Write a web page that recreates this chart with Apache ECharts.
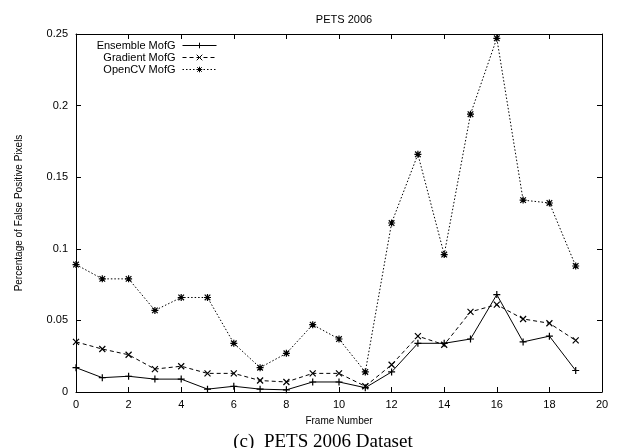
<!DOCTYPE html>
<html>
<head>
<meta charset="utf-8">
<script src="https://cdn.jsdelivr.net/npm/echarts@6/dist/echarts.min.js"></script>
<style>
  html, body { margin: 0; padding: 0; background: #fff; }
  #chart { width: 617px; height: 448px; }
</style>
</head>
<body>
<div id="chart"></div>
<script>
// Frame indices and per-frame false-positive ratios for each method
const frames = [0, 1, 2, 3, 4, 5, 6, 7, 8, 9, 10, 11, 12, 13, 14, 15, 16, 17, 18, 19];
const ensembleMofG = [0.017, 0.010, 0.011, 0.009, 0.009, 0.002, 0.004, 0.002, 0.0015, 0.007, 0.007, 0.003, 0.014, 0.034, 0.034, 0.037, 0.068, 0.035, 0.039, 0.015];
const gradientMofG = [0.035, 0.030, 0.026, 0.016, 0.018, 0.013, 0.013, 0.008, 0.007, 0.013, 0.013, 0.004, 0.019, 0.039, 0.033, 0.056, 0.061, 0.051, 0.048, 0.036];
const openCVMofG = [0.089, 0.079, 0.079, 0.057, 0.066, 0.066, 0.034, 0.017, 0.027, 0.047, 0.037, 0.014, 0.118, 0.166, 0.096, 0.194, 0.247, 0.134, 0.132, 0.088];
const seriesNames = ['Ensemble MofG', 'Gradient MofG', 'OpenCV MofG'];

const FONT = '"Liberation Sans", Arial, sans-serif';

// gnuplot-style point markers drawn as stroked paths
const plusMark = 'path://M0,5L10,5M5,0L5,10';
const crossMark = 'path://M0,0L10,10M10,0L0,10';
const starMark = 'path://M0,5L10,5M5,0L5,10M1,1L9,9M9,1L1,9';

function pairs(values) {
  return frames.map((f, i) => [f, values[i]]);
}

function lineSeries(name, values, dash, mark, size) {
  return {
    name: name,
    type: 'line',
    data: pairs(values),
    symbol: mark,
    symbolSize: size,
    showAllSymbol: true,
    animation: false,
    lineStyle: { color: '#000', width: 1, type: dash },
    itemStyle: { color: 'rgba(0,0,0,0)', borderColor: '#000', borderWidth: 1.2 },
    emphasis: { disabled: true }
  };
}

// one legend per entry so the labels line up on their right edge
function legendRow(name, top) {
  return {
    data: [name],
    right: 400,
    top: top,
    align: 'right',
    itemWidth: 34,
    itemHeight: 7,
    itemGap: 4,
    padding: 0,
    selectedMode: false,
    itemStyle: { color: 'rgba(0,0,0,0)', borderColor: '#000', borderWidth: 1 },
    lineStyle: { width: 1 },
    textStyle: { fontFamily: FONT, fontSize: 11, color: '#000', padding: [0, 2, 0, 0] }
  };
}

const chart = echarts.init(document.getElementById('chart'), null, { renderer: 'canvas' });

chart.setOption({
  backgroundColor: '#fff',
  animation: false,
  title: [
    {
      text: 'PETS 2006',
      left: 339,
      top: 9,
      textAlign: 'center',
      textStyle: { fontFamily: FONT, fontSize: 11, fontWeight: 'normal', color: '#000' }
    },
    {
      text: '(c)  PETS 2006 Dataset',
      left: 318,
      top: 428,
      textAlign: 'center',
      textStyle: { fontFamily: '"Liberation Serif", "Times New Roman", serif', fontSize: 19, fontWeight: 'normal', color: '#000' }
    }
  ],
  legend: [
    legendRow(seriesNames[0], 40),
    legendRow(seriesNames[1], 52),
    legendRow(seriesNames[2], 64)
  ],
  grid: { left: 76, right: 15, top: 34, bottom: 56, show: false },
  xAxis: [
    {
      type: 'value',
      min: 0,
      max: 20,
      interval: 2,
      name: 'Frame Number',
      nameLocation: 'middle',
      nameGap: 24,
      nameTextStyle: { fontFamily: FONT, fontSize: 10, color: '#000' },
      axisLine: { show: true, onZero: false, lineStyle: { color: '#000', width: 1 } },
      axisTick: { show: true, inside: true, length: 5, lineStyle: { color: '#000' } },
      axisLabel: { fontFamily: FONT, fontSize: 11, color: '#000', margin: 7 },
      splitLine: { show: false }
    },
    {
      type: 'value',
      position: 'top',
      min: 0,
      max: 20,
      interval: 2,
      axisLine: { show: true, onZero: false, lineStyle: { color: '#000', width: 1 } },
      axisTick: { show: true, inside: true, length: 5, lineStyle: { color: '#000' } },
      axisLabel: { show: false },
      splitLine: { show: false }
    }
  ],
  yAxis: [
    {
      type: 'value',
      min: 0,
      max: 0.25,
      interval: 0.05,
      name: 'Percentage of False Positive Pixels',
      nameLocation: 'middle',
      nameGap: 52,
      nameTextStyle: { fontFamily: FONT, fontSize: 10, color: '#000' },
      axisLine: { show: true, onZero: false, lineStyle: { color: '#000', width: 1 } },
      axisTick: { show: true, inside: true, length: 5, lineStyle: { color: '#000' } },
      axisLabel: { fontFamily: FONT, fontSize: 11, color: '#000', margin: 8 },
      splitLine: { show: false }
    },
    {
      type: 'value',
      position: 'right',
      min: 0,
      max: 0.25,
      interval: 0.05,
      axisLine: { show: true, onZero: false, lineStyle: { color: '#000', width: 1 } },
      axisTick: { show: true, inside: true, length: 5, lineStyle: { color: '#000' } },
      axisLabel: { show: false },
      splitLine: { show: false }
    }
  ],
  series: [
    lineSeries(seriesNames[0], ensembleMofG, 'solid', plusMark, 7),
    lineSeries(seriesNames[1], gradientMofG, [4, 3], crossMark, 6),
    lineSeries(seriesNames[2], openCVMofG, [1.5, 2], starMark, 7)
  ]
});
</script>
</body>
</html>
